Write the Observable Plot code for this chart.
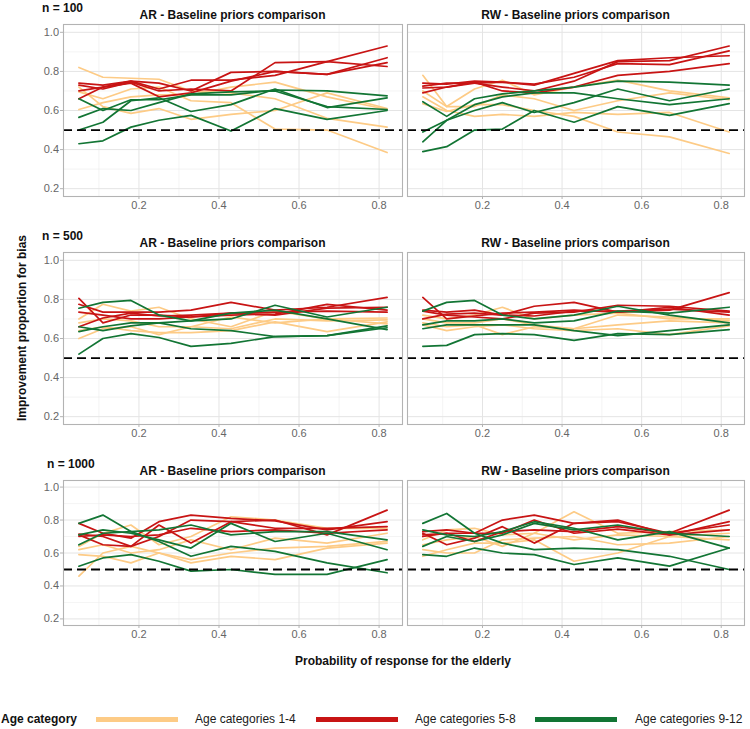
<!DOCTYPE html>
<html><head><meta charset="utf-8">
<script src="https://cdn.jsdelivr.net/npm/d3@7"></script>
<script src="https://cdn.jsdelivr.net/npm/@observablehq/plot@0.6"></script>
<style>
body{margin:0;background:#fff;font-family:"Liberation Sans",Arial,Helvetica,sans-serif}
#chart{position:relative;width:750px;height:729px;background:#fff;overflow:hidden}
.lbl{position:absolute;white-space:nowrap;color:#111;line-height:1}
.plot{position:absolute}
</style>
</head><body><div id="chart"></div>
<script>
// ---------- data ----------
const xProb = [0.05, 0.11, 0.18, 0.25, 0.33, 0.43, 0.54, 0.67, 0.82];
const sampleSizes = ["n = 100", "n = 500", "n = 1000"];
const designs = ["AR", "RW"];
const panelTitleSuffix = " - Baseline priors comparison";
const ageGroups = ["Age categories 1-4", "Age categories 5-8", "Age categories 9-12"];
const ageColors = ["#FDCB86", "#C81414", "#127534"];
const xTicks = [0.2, 0.4, 0.6, 0.8];
const yTicks = [0.2, 0.4, 0.6, 0.8, 1.0];
const xMinor = [0.1, 0.3, 0.5, 0.7];
const yMinor = [0.3, 0.5, 0.7, 0.9];
const reference = [0.5];

// AR, n = 100
const ar100_1_4 = [
  [0.82, 0.77, 0.765, 0.76, 0.70, 0.69, 0.66, 0.56, 0.515],
  [0.72, 0.62, 0.585, 0.61, 0.555, 0.58, 0.60, 0.69, 0.61],
  [0.695, 0.66, 0.71, 0.72, 0.65, 0.64, 0.505, 0.50, 0.385],
  [0.605, 0.64, 0.67, 0.68, 0.68, 0.72, 0.745, 0.67, 0.605]];
const ar100_5_8 = [
  [0.66, 0.72, 0.75, 0.71, 0.755, 0.755, 0.78, 0.85, 0.93],
  [0.70, 0.72, 0.74, 0.67, 0.69, 0.75, 0.80, 0.785, 0.87],
  [0.74, 0.73, 0.75, 0.74, 0.70, 0.795, 0.80, 0.785, 0.845],
  [0.73, 0.71, 0.745, 0.70, 0.71, 0.70, 0.845, 0.85, 0.825]];
const ar100_9_12 = [
  [0.66, 0.60, 0.655, 0.655, 0.68, 0.68, 0.705, 0.70, 0.675],
  [0.565, 0.61, 0.60, 0.64, 0.685, 0.695, 0.70, 0.62, 0.605],
  [0.50, 0.54, 0.65, 0.665, 0.595, 0.63, 0.71, 0.615, 0.665],
  [0.43, 0.445, 0.515, 0.55, 0.575, 0.495, 0.61, 0.555, 0.60]];
// RW, n = 100
const rw100_1_4 = [
  [0.78, 0.62, 0.71, 0.755, 0.68, 0.72, 0.755, 0.70, 0.665],
  [0.70, 0.62, 0.62, 0.68, 0.66, 0.60, 0.65, 0.69, 0.655],
  [0.67, 0.60, 0.57, 0.58, 0.57, 0.59, 0.58, 0.59, 0.49],
  [0.635, 0.595, 0.63, 0.63, 0.60, 0.57, 0.49, 0.465, 0.38]];
const rw100_5_8 = [
  [0.74, 0.735, 0.75, 0.745, 0.73, 0.79, 0.855, 0.87, 0.88],
  [0.725, 0.74, 0.74, 0.72, 0.70, 0.75, 0.85, 0.855, 0.93],
  [0.715, 0.72, 0.745, 0.70, 0.69, 0.72, 0.78, 0.80, 0.84],
  [0.69, 0.72, 0.74, 0.745, 0.735, 0.77, 0.84, 0.835, 0.905]];
const rw100_9_12 = [
  [0.645, 0.57, 0.66, 0.685, 0.70, 0.72, 0.75, 0.745, 0.73],
  [0.49, 0.55, 0.60, 0.64, 0.59, 0.64, 0.71, 0.65, 0.71],
  [0.44, 0.55, 0.63, 0.67, 0.69, 0.69, 0.66, 0.63, 0.66],
  [0.39, 0.415, 0.50, 0.505, 0.60, 0.54, 0.62, 0.575, 0.635]];
// AR, n = 500
const ar500_1_4 = [
  [0.70, 0.775, 0.74, 0.76, 0.70, 0.66, 0.74, 0.70, 0.705],
  [0.68, 0.70, 0.69, 0.66, 0.66, 0.65, 0.70, 0.69, 0.695],
  [0.64, 0.66, 0.64, 0.63, 0.63, 0.64, 0.685, 0.635, 0.685],
  [0.60, 0.65, 0.66, 0.62, 0.66, 0.71, 0.68, 0.70, 0.675]];
const ar500_5_8 = [
  [0.805, 0.68, 0.72, 0.72, 0.71, 0.72, 0.725, 0.775, 0.745],
  [0.775, 0.735, 0.735, 0.735, 0.745, 0.785, 0.745, 0.76, 0.81],
  [0.735, 0.72, 0.70, 0.70, 0.71, 0.73, 0.735, 0.74, 0.735],
  [0.66, 0.705, 0.73, 0.715, 0.72, 0.73, 0.72, 0.755, 0.76]];
const ar500_9_12 = [
  [0.755, 0.785, 0.795, 0.72, 0.69, 0.73, 0.745, 0.70, 0.645],
  [0.66, 0.64, 0.665, 0.68, 0.69, 0.70, 0.77, 0.71, 0.76],
  [0.635, 0.66, 0.68, 0.68, 0.65, 0.64, 0.61, 0.615, 0.665],
  [0.52, 0.60, 0.625, 0.605, 0.56, 0.575, 0.61, 0.615, 0.655]];
// RW, n = 500
const rw500_1_4 = [
  [0.72, 0.70, 0.72, 0.76, 0.70, 0.72, 0.73, 0.70, 0.70],
  [0.70, 0.68, 0.68, 0.70, 0.67, 0.65, 0.72, 0.71, 0.69],
  [0.68, 0.66, 0.67, 0.62, 0.66, 0.65, 0.67, 0.69, 0.68],
  [0.67, 0.64, 0.66, 0.67, 0.65, 0.64, 0.65, 0.62, 0.665]];
const rw500_5_8 = [
  [0.81, 0.70, 0.715, 0.73, 0.735, 0.745, 0.735, 0.76, 0.72],
  [0.745, 0.735, 0.745, 0.72, 0.765, 0.785, 0.735, 0.745, 0.835],
  [0.74, 0.72, 0.71, 0.70, 0.73, 0.735, 0.77, 0.765, 0.74],
  [0.70, 0.725, 0.73, 0.72, 0.715, 0.74, 0.74, 0.75, 0.735]];
const rw500_9_12 = [
  [0.74, 0.785, 0.795, 0.72, 0.70, 0.72, 0.765, 0.72, 0.68],
  [0.67, 0.69, 0.69, 0.70, 0.68, 0.69, 0.74, 0.73, 0.76],
  [0.65, 0.67, 0.67, 0.67, 0.67, 0.64, 0.615, 0.64, 0.67],
  [0.56, 0.565, 0.62, 0.625, 0.62, 0.59, 0.625, 0.62, 0.645]];
// AR, n = 1000
const ar1000_1_4 = [
  [0.64, 0.72, 0.77, 0.65, 0.70, 0.82, 0.80, 0.75, 0.75],
  [0.62, 0.65, 0.60, 0.62, 0.68, 0.62, 0.69, 0.66, 0.72],
  [0.59, 0.58, 0.54, 0.60, 0.56, 0.60, 0.63, 0.64, 0.67],
  [0.46, 0.60, 0.64, 0.60, 0.54, 0.58, 0.56, 0.63, 0.66]];
const ar1000_5_8 = [
  [0.78, 0.72, 0.69, 0.79, 0.83, 0.81, 0.795, 0.74, 0.79],
  [0.715, 0.70, 0.64, 0.70, 0.80, 0.79, 0.80, 0.71, 0.86],
  [0.71, 0.65, 0.64, 0.77, 0.66, 0.79, 0.75, 0.75, 0.76],
  [0.70, 0.71, 0.70, 0.71, 0.75, 0.73, 0.74, 0.72, 0.74]];
const ar1000_9_12 = [
  [0.78, 0.83, 0.73, 0.74, 0.77, 0.71, 0.73, 0.73, 0.68],
  [0.71, 0.74, 0.72, 0.68, 0.63, 0.78, 0.67, 0.72, 0.62],
  [0.65, 0.72, 0.73, 0.67, 0.58, 0.64, 0.61, 0.54, 0.48],
  [0.52, 0.57, 0.59, 0.55, 0.49, 0.50, 0.47, 0.47, 0.56]];
// RW, n = 1000
const rw1000_1_4 = [
  [0.68, 0.74, 0.75, 0.71, 0.72, 0.85, 0.72, 0.73, 0.74],
  [0.65, 0.68, 0.70, 0.64, 0.72, 0.68, 0.71, 0.70, 0.72],
  [0.62, 0.60, 0.60, 0.68, 0.69, 0.70, 0.65, 0.66, 0.70],
  [0.58, 0.62, 0.66, 0.66, 0.68, 0.55, 0.60, 0.70, 0.68]];
const rw1000_5_8 = [
  [0.73, 0.74, 0.72, 0.80, 0.83, 0.78, 0.79, 0.72, 0.86],
  [0.72, 0.65, 0.69, 0.76, 0.66, 0.78, 0.80, 0.71, 0.79],
  [0.71, 0.72, 0.67, 0.73, 0.74, 0.73, 0.76, 0.72, 0.77],
  [0.70, 0.72, 0.72, 0.72, 0.80, 0.72, 0.745, 0.71, 0.74]];
const rw1000_9_12 = [
  [0.78, 0.84, 0.72, 0.66, 0.62, 0.63, 0.62, 0.58, 0.50],
  [0.74, 0.71, 0.70, 0.73, 0.79, 0.75, 0.68, 0.73, 0.63],
  [0.64, 0.70, 0.67, 0.71, 0.78, 0.74, 0.77, 0.72, 0.70],
  [0.59, 0.58, 0.63, 0.60, 0.59, 0.53, 0.57, 0.52, 0.63]];

const panelSeries = [
  [[ar100_1_4, ar100_5_8, ar100_9_12], [rw100_1_4, rw100_5_8, rw100_9_12]],
  [[ar500_1_4, ar500_5_8, ar500_9_12], [rw500_1_4, rw500_5_8, rw500_9_12]],
  [[ar1000_1_4, ar1000_5_8, ar1000_9_12], [rw1000_1_4, rw1000_5_8, rw1000_9_12]]
];

// ---------- layout ----------
const chart = document.getElementById("chart");
const rowsPx = [{top: 24, bottom: 196}, {top: 252, bottom: 424}, {top: 480, bottom: 625}];
const colsPx = [{left: 63, right: 402}, {left: 407, right: 744}];
const nLabelX = [42, 42, 47];

function addLabel(text, x, y, opts = {}) {
  const d = document.createElement("div");
  d.className = "lbl";
  d.textContent = text;
  d.style.left = x + "px";
  d.style.top = y + "px";
  d.style.fontSize = (opts.size || 12) + "px";
  d.style.fontWeight = opts.bold ? "bold" : "normal";
  if (opts.color) d.style.color = opts.color;
  const tx = opts.anchor === "middle" ? "-50%" : "0";
  d.style.transform = `translate(${tx},-50%)`;
  if (opts.rotate) d.style.transform = `translate(-50%,-50%) rotate(${opts.rotate}deg)`;
  chart.appendChild(d);
  return d;
}

function panelData(series) {
  const rows = [];
  series.forEach((lines, g) => {
    lines.forEach((vals, i) => {
      vals.forEach((v, k) => rows.push({x: xProb[k], y: v, group: ageGroups[g], id: g * 10 + i}));
    });
  });
  return rows;
}

const mL = 40, mR = 1, mT = 1, mB = 22;
rowsPx.forEach((r, ri) => {
  addLabel(sampleSizes[ri], nLabelX[ri], r.top - 16, {bold: true, size: 12});
  colsPx.forEach((c, ci) => {
    const showY = ci === 0;
    const left = showY ? mL : 1;
    const w = (c.right - c.left) + left + mR;
    const h = (r.bottom - r.top) + mT + mB;
    const data = panelData(panelSeries[ri][ci]);
    const marks = [
      Plot.gridX(xMinor, {stroke: "#ededed", strokeOpacity: 1, strokeWidth: 0.6}),
      Plot.gridY(yMinor, {stroke: "#ededed", strokeOpacity: 1, strokeWidth: 0.6}),
      Plot.gridX(xTicks, {stroke: "#e4e4e4", strokeOpacity: 1, strokeWidth: 1}),
      Plot.gridY(yTicks, {stroke: "#e4e4e4", strokeOpacity: 1, strokeWidth: 1}),
      Plot.lineY(data, {x: "x", y: "y", z: "id", stroke: "group", strokeWidth: 1.7, curve: "linear"}),
      Plot.ruleY(reference, {stroke: "#000", strokeWidth: 1.8, strokeDasharray: "9,5"}),
      Plot.frame({stroke: "#b3b3b3", strokeWidth: 1.1}),
      Plot.axisX(xTicks, {tickSize: 3, tickPadding: 2, stroke: "#b3b3b3", fill: "#666", fontSize: 11, tickFormat: d3.format(".1f"), label: null})
    ];
    if (showY) marks.push(Plot.axisY(yTicks, {tickSize: 3, tickPadding: 1.5, stroke: "#b3b3b3", fill: "#666", fontSize: 11, tickFormat: d3.format(".1f"), label: null}));
    const p = Plot.plot({
      width: w, height: h,
      marginLeft: left, marginRight: mR, marginTop: mT, marginBottom: mB,
      x: {domain: [0.0115, 0.8585]},
      y: showY ? {domain: [0.16, 1.04]} : {domain: [0.16, 1.04], axis: null},
      color: {domain: ageGroups, range: ageColors},
      style: {fontFamily: "'Liberation Sans', Arial, sans-serif", fontSize: "11px", background: "transparent", overflow: "visible"},
      marks
    });
    p.classList.add("plot");
    p.style.left = (c.left - left) + "px";
    p.style.top = (r.top - mT) + "px";
    chart.appendChild(p);
    addLabel(designs[ci] + panelTitleSuffix, (c.left + c.right) / 2, r.top - 9, {bold: true, size: 12, anchor: "middle"});
  });
});

// axis titles
addLabel("Improvement proportion for bias", 22, 328, {bold: true, size: 12, rotate: -90});
addLabel("Probability of response for the elderly", 403, 661, {bold: true, size: 12, anchor: "middle"});

// legend
addLabel("Age category", 1, 719, {bold: true, size: 12});
const swX = [96, 316, 535];
const txX = [195, 415, 635];
ageGroups.forEach((g, i) => {
  const s = document.createElement("div");
  s.style.cssText = `position:absolute;left:${swX[i]}px;top:716.5px;width:82px;height:5px;background:${ageColors[i]}`;
  chart.appendChild(s);
  addLabel(g, txX[i], 719, {size: 12, color: "#1a1a1a"});
});
</script></body></html>
